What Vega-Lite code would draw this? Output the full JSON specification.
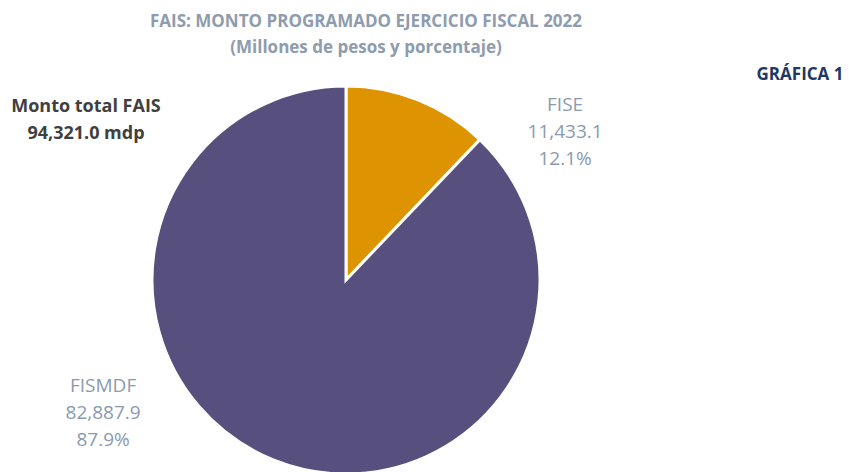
{
  "$schema": "https://vega.github.io/schema/vega-lite/v6.json",
  "width": 692,
  "height": 384,
  "autosize": {"type": "none"},
  "padding": {"left": 0, "top": 88, "right": 157, "bottom": 0},
  "background": "white",
  "config": {"view": {"stroke": null}},
  "title": {
    "text": ["FAIS: MONTO PROGRAMADO EJERCICIO FISCAL 2022", "(Millones de pesos y porcentaje)"],
    "anchor": "middle",
    "dx": 20,
    "offset": 9,
    "font": "Open Sans",
    "fontSize": 17,
    "fontWeight": "bold",
    "color": "#8E9CAD",
    "lineHeight": 26
  },
  "data": {
    "values": [
      {"fondo": "FISE", "monto": 11433.1, "orden": 1, "etiqueta": ["FISE", "11,433.1", "12.1%"]},
      {"fondo": "FISMDF", "monto": 82887.9, "orden": 2, "etiqueta": ["FISMDF", "82,887.9", "87.9%"]}
    ]
  },
  "layer": [
    {
      "mark": {"type": "arc", "outerRadius": 194, "stroke": "white", "strokeWidth": 3},
      "encoding": {
        "theta": {"field": "monto", "type": "quantitative", "stack": true},
        "order": {"field": "orden", "type": "quantitative"},
        "color": {
          "field": "fondo",
          "type": "nominal",
          "scale": {"domain": ["FISE", "FISMDF"], "range": ["#DD9400", "#574F7D"]},
          "legend": null
        }
      }
    },
    {
      "transform": [{"filter": "datum.fondo === 'FISE'"}],
      "mark": {"type": "text", "radius": 194, "dx": 147, "dy": 11, "align": "center", "baseline": "alphabetic", "font": "Open Sans", "fontSize": 19, "color": "#8A9AB0", "lineHeight": 27},
      "encoding": {
        "theta": {"field": "monto", "type": "quantitative", "stack": true},
        "order": {"field": "orden", "type": "quantitative"},
        "text": {"field": "etiqueta"}
      }
    },
    {
      "transform": [{"filter": "datum.fondo === 'FISMDF'"}],
      "mark": {"type": "text", "radius": 194, "dx": -315, "dy": -68, "align": "center", "baseline": "alphabetic", "font": "Open Sans", "fontSize": 19, "color": "#8A9AB0", "lineHeight": 27},
      "encoding": {
        "theta": {"field": "monto", "type": "quantitative", "stack": true},
        "order": {"field": "orden", "type": "quantitative"},
        "text": {"field": "etiqueta"}
      }
    },
    {
      "data": {"values": [{"texto": ["Monto total FAIS", "94,321.0 mdp"]}]},
      "mark": {"type": "text", "dx": -260, "dy": -168, "align": "center", "baseline": "alphabetic", "font": "Open Sans", "fontSize": 18, "fontWeight": "bold", "color": "#404040", "lineHeight": 27},
      "encoding": {"text": {"field": "texto"}}
    },
    {
      "data": {"values": [{"texto": "GRÁFICA 1"}]},
      "mark": {"type": "text", "dx": 454, "dy": -200, "align": "center", "baseline": "alphabetic", "font": "Open Sans", "fontSize": 17, "fontWeight": "bold", "color": "#1F3864"},
      "encoding": {"text": {"field": "texto"}}
    }
  ]
}
